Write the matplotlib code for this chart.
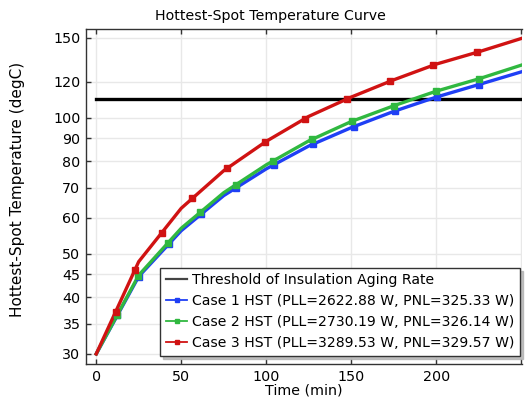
import numpy as np
import matplotlib
matplotlib.use("Agg")
import matplotlib.pyplot as plt
from matplotlib.lines import Line2D
from matplotlib.ticker import FixedLocator, FixedFormatter, NullLocator

# ---- data ----
time_min = [0, 25, 50, 75, 100, 125, 150, 175, 200, 225, 250]
case1_hst = [30.0, 44.5, 56.2, 67.2, 77.0, 86.5, 95.0, 103.2, 111.0, 118.3, 126.2]
case2_hst = [30.0, 44.8, 56.9, 68.2, 78.6, 88.8, 98.0, 106.2, 114.4, 121.8, 130.6]
case3_hst = [30.0, 48.0, 63.0, 76.3, 88.6, 100.6, 111.0, 121.2, 131.3, 139.8, 149.6]
threshold = 110.0

labels = [
    "Case 1 HST (PLL=2622.88 W, PNL=325.33 W)",
    "Case 2 HST (PLL=2730.19 W, PNL=326.14 W)",
    "Case 3 HST (PLL=3289.53 W, PNL=329.57 W)",
]
threshold_label = "Threshold of Insulation Aging Rate"
yticks = [30, 35, 40, 45, 50, 60, 70, 80, 90, 100, 120, 150]
xticks = [0, 50, 100, 150, 200, 250]
xtick_labels = ["0", "50", "100", "150", "200", ""]

colors = ["#1f3ff5", "#30b840", "#d01212"]

W, H = 528, 403
fig = plt.figure(figsize=(W / 100, H / 100), dpi=100)
ax = fig.add_axes([86 / W, 1 - 364 / H, (522 - 86) / W, (364 - 29) / H])

ax.set_yscale("log")
ax.set_xlim(-6, 250.4)
ax.set_ylim(28.5, 157)

ax.yaxis.set_major_locator(FixedLocator(yticks))
ax.yaxis.set_major_formatter(FixedFormatter([str(v) for v in yticks]))
ax.yaxis.set_minor_locator(NullLocator())
ax.xaxis.set_major_locator(FixedLocator(xticks))
ax.xaxis.set_major_formatter(FixedFormatter(xtick_labels))

ax.grid(True, color="#e8e8e8", linewidth=1.0, zorder=0)
ax.set_axisbelow(True)
for side in ["left", "bottom", "top"]:
    ax.spines[side].set_color("#333333")
    ax.spines[side].set_linewidth(1.0)
ax.spines["right"].set_visible(False)
ax.tick_params(direction="in", length=3.5, width=1.0, color="#333333",
               labelsize=10.3, top=True, labelcolor="black", pad=4)

ax.axhline(threshold, xmin=(0 + 6) / 256.4, xmax=1.0, color="black", lw=2.4, zorder=3)

series = [case1_hst, case2_hst, case3_hst]
t_arr = np.array(time_min, dtype=float)
for vals, c in zip(series, colors):
    v = np.array(vals, dtype=float)
    ax.plot(t_arr, v, color=c, lw=2.4, zorder=4, solid_joinstyle="round")

fig.canvas.draw()
# markers evenly spaced along each curve's on-screen length (11 markers)
for vals, c in zip(series, colors):
    v = np.array(vals, dtype=float)
    disp = ax.transData.transform(np.column_stack([t_arr, v]))
    seg = np.hypot(np.diff(disp[:, 0]), np.diff(disp[:, 1]))
    cum = np.concatenate([[0], np.cumsum(seg)])
    targets = cum[-1] * np.arange(1, 12) / 12.0
    mx = np.interp(targets, cum, disp[:, 0])
    my = np.interp(targets, cum, disp[:, 1])
    md = ax.transData.inverted().transform(np.column_stack([mx, my]))
    ax.plot(md[:, 0], md[:, 1], ls="none", marker="s", ms=5, color=c,
            mec=c, zorder=5)

handles = [Line2D([], [], color="#444444", lw=1.6)]
for c in colors:
    handles.append(Line2D([], [], color=c, lw=1.3, marker="s", ms=3.5))
leg = ax.legend(handles, [threshold_label] + labels, loc="lower right",
                bbox_to_anchor=((520 - 86) / 436, (364 - 356) / 335),
                borderaxespad=0, fontsize=10.1, frameon=True, fancybox=False,
                shadow={"color": "#b0b0b0", "alpha": 0.8}, framealpha=1,
                edgecolor="#333333",
                handlelength=1.5, handletextpad=0.35, labelspacing=0.5,
                borderpad=0.4)
leg.get_frame().set_linewidth(1.0)
leg.set_zorder(10)

ax.set_xlabel("Time (min)", fontsize=10.3, labelpad=0)
ax.set_ylabel("Hottest-Spot Temperature (degC)", fontsize=11)
ax.yaxis.set_label_coords(-0.14, 0.52)
fig.text(270 / W, 1 - 16 / H, "Hottest-Spot Temperature Curve", ha="center",
         va="center", fontsize=10.2)

fig.savefig("out.png", dpi=100)
